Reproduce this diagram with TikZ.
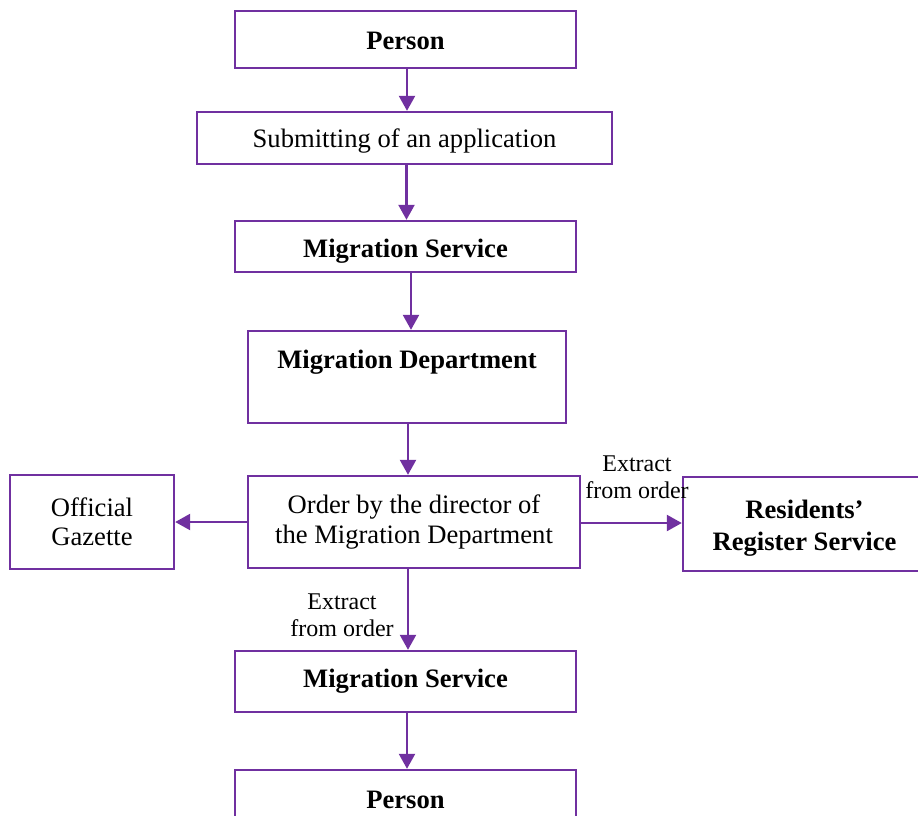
\documentclass[tikz,border=0pt]{standalone}
\usepackage{fontspec}
\setmainfont{Liberation Serif}
\usetikzlibrary{arrows.meta}
\definecolor{purp}{HTML}{7030A0}
\begin{document}
\begin{tikzpicture}[x=0.5pt, y=-0.5pt, line join=miter,
		box/.style={draw=purp, line width=1.2pt, inner sep=0pt, align=center, font=\fontsize{13.3}{15}\selectfont},
		bbox/.style={box, font=\fontsize{13.3}{15}\selectfont\bfseries},
		arr/.style={draw=purp, line width=1.2pt, -{Triangle[length=7.5pt, width=8pt]}},
		lbl/.style={inner sep=0pt, align=center, font=\fontsize{12}{13.5}\selectfont}]
	\useasboundingbox (0,0) rectangle (918,816);
	
	\node[bbox, minimum width=170.5pt, minimum height=28.5pt, text height=10.5pt] (person) at (405.5,39.5) {Person};
	\node[box, minimum width=207.5pt, minimum height=26pt, text height=12pt] (sub) at (404.5,138) {Submitting of an application};
	\node[bbox, minimum width=170.5pt, minimum height=25.5pt, text height=14pt] (ms) at (405.5,246.5) {Migration Service};
	\node[box, minimum width=159pt, minimum height=46pt] (md) at (407,377) {};
	\node[font=\fontsize{13.3}{15}\selectfont\bfseries, inner sep=0pt] (mdtext) at (407,362) {Migration Department};
	\node[box, minimum width=166pt, minimum height=46pt] (order) at (414,522) {Order by the director of\\the Migration Department};
	\node[box, minimum width=82pt, minimum height=47pt, font=\fontsize{13.3}{14.5}\selectfont] (gaz) at (92,522) {Official\\Gazette};
	\node[box, minimum width=121.5pt, minimum height=47pt, font=\fontsize{13.3}{16}\selectfont\bfseries] (res) at (804.5,524) {\rule{0pt}{13pt}Residents'\\Register Service};
	\node[bbox, minimum width=170.5pt, minimum height=30.5pt] (ms2) at (405.5,681.5) {Migration Service};
	\node[bbox, minimum width=170.5pt, minimum height=30pt] (person2) at (405.5,800) {Person};
	
	% labels on the extract arrows
	\node[lbl] (lblres) at (637,477) {Extract\\from order};
	\node[lbl] (lblms) at (342,615) {Extract\\from order};
	
	\draw[arr] ([xshift=0.75pt]person.south) -- ([xshift=0.75pt]person.south |- sub.north);
	\draw[arr] ([xshift=1pt]sub.south) -- ([xshift=1pt]sub.south |- ms.north);
	\draw[arr] ([xshift=2.75pt]ms.south) -- ([xshift=2.75pt]ms.south |- md.north);
	\draw[arr] ([xshift=0.5pt]md.south) -- ([xshift=0.5pt]md.south |- order.north);
	\draw[arr] (order.west) -- (gaz.east);
	\draw[arr] ([yshift=-0.5pt]order.east) -- ([yshift=-0.5pt]order.east -| res.west);
	\draw[arr] ([xshift=1.25pt]order.south -| ms2.north) -- ([xshift=1.25pt]ms2.north);
	\draw[arr] ([xshift=0.75pt]ms2.south) -- ([xshift=0.75pt]ms2.south |- person2.north);
\end{tikzpicture}
\end{document}
